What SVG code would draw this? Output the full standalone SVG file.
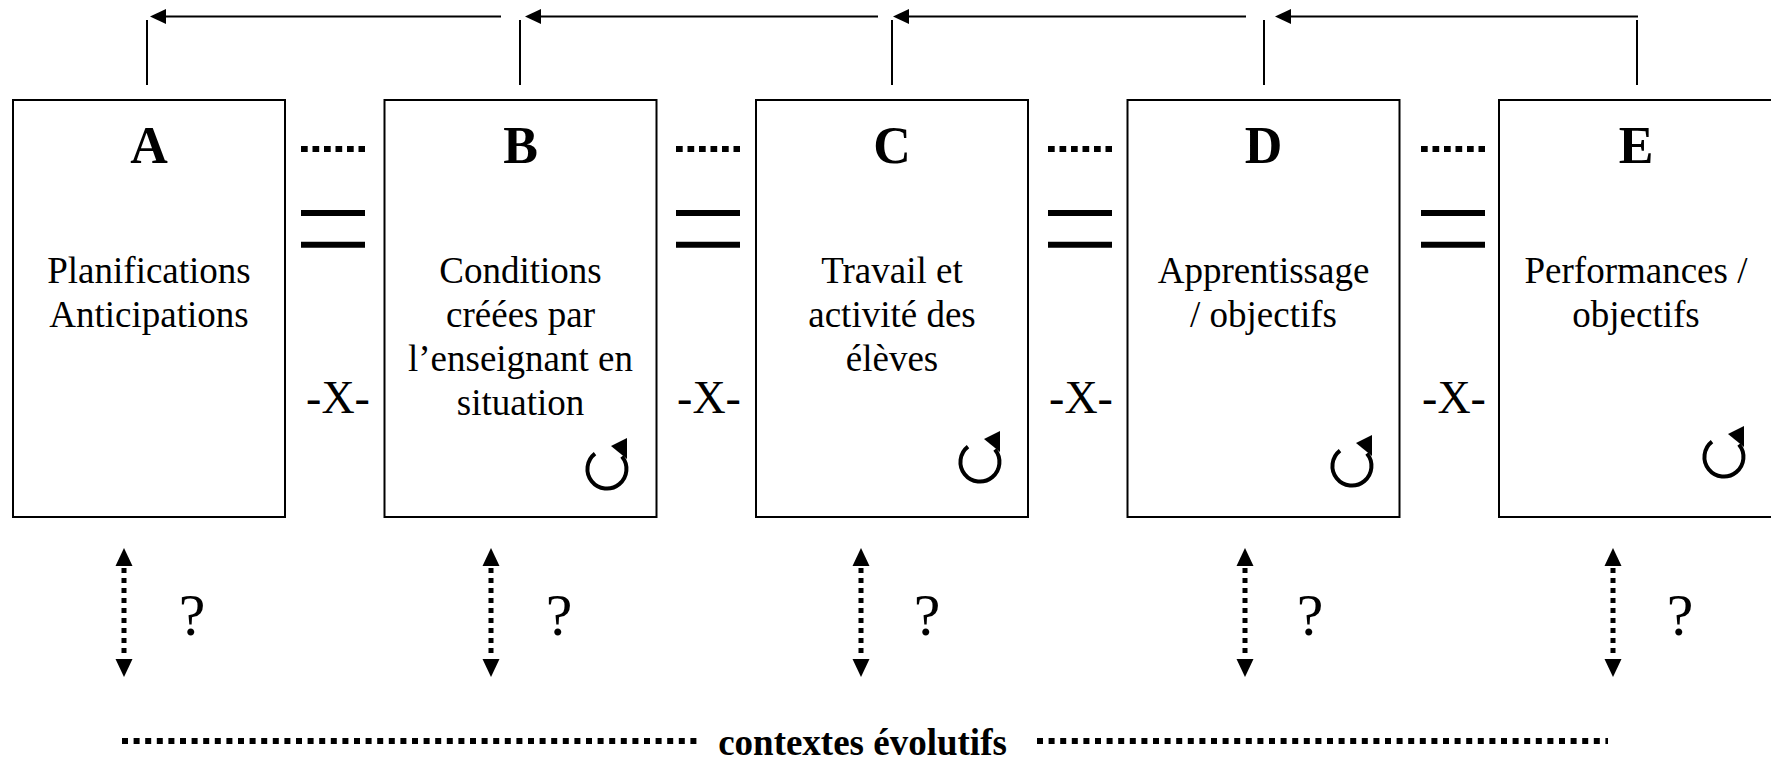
<svg xmlns="http://www.w3.org/2000/svg" xmlns:xlink="http://www.w3.org/1999/xlink" width="1771" height="760" viewBox="0 0 1771 760">
<style>
.box{fill:#fff;stroke:#000;stroke-width:2}
.t{font-family:"Liberation Serif","Times New Roman",serif;font-size:37px;text-anchor:middle;fill:#000}
.L{font-family:"Liberation Serif","Times New Roman",serif;font-size:52px;font-weight:bold;text-anchor:middle;fill:#000}
.x{font-family:"Liberation Serif","Times New Roman",serif;font-size:46px;text-anchor:middle;fill:#000}
.q{font-family:"Liberation Serif","Times New Roman",serif;font-size:60px;text-anchor:middle;fill:#000}
.ctx{font-family:"Liberation Serif","Times New Roman",serif;font-size:37px;font-weight:bold;text-anchor:middle;fill:#000}
.ln{stroke:#000;stroke-width:2;fill:none}
.dots{stroke:#000;stroke-width:6;stroke-dasharray:6.7 4.8;fill:none}
.eq{stroke:#000;stroke-width:6;fill:none}
.vd{stroke:#000;stroke-width:5;stroke-dasharray:5 5;fill:none}
.bd{stroke:#000;stroke-width:6;stroke-dasharray:6 5.6;fill:none}
</style>
<defs>
<g id="cyc">
<path d="M -12 -15.4 A 19.5 19.5 0 1 0 14.9 -12.5" fill="none" stroke="#000" stroke-width="4"/>
<polygon points="4,-23 20,-31 20,-10" fill="#000"/>
</g>
<g id="darrow">
<polygon points="0,0 -8.5,18 8.5,18" fill="#000"/>
<line x1="0" y1="20" x2="0" y2="110" class="vd"/>
<polygon points="0,129 -8.5,111 8.5,111" fill="#000"/>
</g>
</defs>
<rect width="1771" height="760" fill="#fff"/>

<g id="connectors">
<line class="ln" x1="147" y1="20" x2="147" y2="85"/>
<line class="ln" x1="520" y1="20" x2="520" y2="85"/>
<line class="ln" x1="892" y1="20" x2="892" y2="85"/>
<line class="ln" x1="1264" y1="20" x2="1264" y2="85"/>
<line class="ln" x1="1637" y1="20" x2="1637" y2="85"/>
<line class="ln" x1="501" y1="16.5" x2="162" y2="16.5"/>
<polygon points="150,16.5 166,9 166,24" fill="#000"/>
<line class="ln" x1="878" y1="16.5" x2="537" y2="16.5"/>
<polygon points="525,16.5 541,9 541,24" fill="#000"/>
<line class="ln" x1="1246" y1="16.5" x2="905" y2="16.5"/>
<polygon points="893,16.5 909,9 909,24" fill="#000"/>
<line class="ln" x1="1638" y1="16.5" x2="1287" y2="16.5"/>
<polygon points="1275,16.5 1291,9 1291,24" fill="#000"/>
<use xlink:href="#darrow" href="#darrow" x="124" y="548"/>
<use xlink:href="#darrow" href="#darrow" x="491" y="548"/>
<use xlink:href="#darrow" href="#darrow" x="861" y="548"/>
<use xlink:href="#darrow" href="#darrow" x="1245" y="548"/>
<use xlink:href="#darrow" href="#darrow" x="1613" y="548"/>
</g>

<g id="separators">
<line class="dots" x1="301" y1="149" x2="365" y2="149"/>
<line class="eq" x1="301" y1="213" x2="365" y2="213"/>
<line class="eq" x1="301" y1="244.7" x2="365" y2="244.7"/>
<text class="x" x="338" y="413">-X-</text>
<line class="dots" x1="676" y1="149" x2="740" y2="149"/>
<line class="eq" x1="676" y1="213" x2="740" y2="213"/>
<line class="eq" x1="676" y1="244.7" x2="740" y2="244.7"/>
<text class="x" x="709" y="413">-X-</text>
<line class="dots" x1="1048" y1="149" x2="1112" y2="149"/>
<line class="eq" x1="1048" y1="213" x2="1112" y2="213"/>
<line class="eq" x1="1048" y1="244.7" x2="1112" y2="244.7"/>
<text class="x" x="1081" y="413">-X-</text>
<line class="dots" x1="1421" y1="149" x2="1485" y2="149"/>
<line class="eq" x1="1421" y1="213" x2="1485" y2="213"/>
<line class="eq" x1="1421" y1="244.7" x2="1485" y2="244.7"/>
<text class="x" x="1454" y="413">-X-</text>
</g>

<g id="nodeA">
<rect class="box" x="13" y="100" width="272" height="417"/>
<text class="L" x="149" y="162.5">A</text>
<text class="t" x="149" y="283">Planifications</text>
<text class="t" x="149" y="327">Anticipations</text>
</g>
<g id="nodeB">
<rect class="box" x="384.5" y="100" width="272" height="417"/>
<text class="L" x="520.5" y="162.5">B</text>
<text class="t" x="520.5" y="283">Conditions</text>
<text class="t" x="520.5" y="327">créées par</text>
<text class="t" x="520.5" y="371">l’enseignant en</text>
<text class="t" x="520.5" y="415">situation</text>
<use xlink:href="#cyc" href="#cyc" x="607" y="469"/>
</g>
<g id="nodeC">
<rect class="box" x="756" y="100" width="272" height="417"/>
<text class="L" x="892" y="162.5">C</text>
<text class="t" x="892" y="283">Travail et</text>
<text class="t" x="892" y="327">activité des</text>
<text class="t" x="892" y="371">élèves</text>
<use xlink:href="#cyc" href="#cyc" x="980" y="462"/>
</g>
<g id="nodeD">
<rect class="box" x="1127.5" y="100" width="272" height="417"/>
<text class="L" x="1263.5" y="162.5">D</text>
<text class="t" x="1263.5" y="283">Apprentissage</text>
<text class="t" x="1263.5" y="327">/ objectifs</text>
<use xlink:href="#cyc" href="#cyc" x="1352" y="466"/>
</g>
<g id="nodeE">
<rect class="box" x="1499" y="100" width="290" height="417"/>
<text class="L" x="1636" y="162.5">E</text>
<text class="t" x="1636" y="283">Performances /</text>
<text class="t" x="1636" y="327">objectifs</text>
<use xlink:href="#cyc" href="#cyc" x="1724" y="457"/>
</g>

<g id="questions">
<text class="q" x="192" y="635">?</text>
<text class="q" x="559" y="635">?</text>
<text class="q" x="927" y="635">?</text>
<text class="q" x="1310" y="635">?</text>
<text class="q" x="1680" y="635">?</text>
</g>

<g id="context">
<line class="bd" x1="122" y1="741" x2="697" y2="741"/>
<text class="ctx" x="862.5" y="755">contextes évolutifs</text>
<line class="bd" x1="1037" y1="741" x2="1608" y2="741"/>
</g>
</svg>
